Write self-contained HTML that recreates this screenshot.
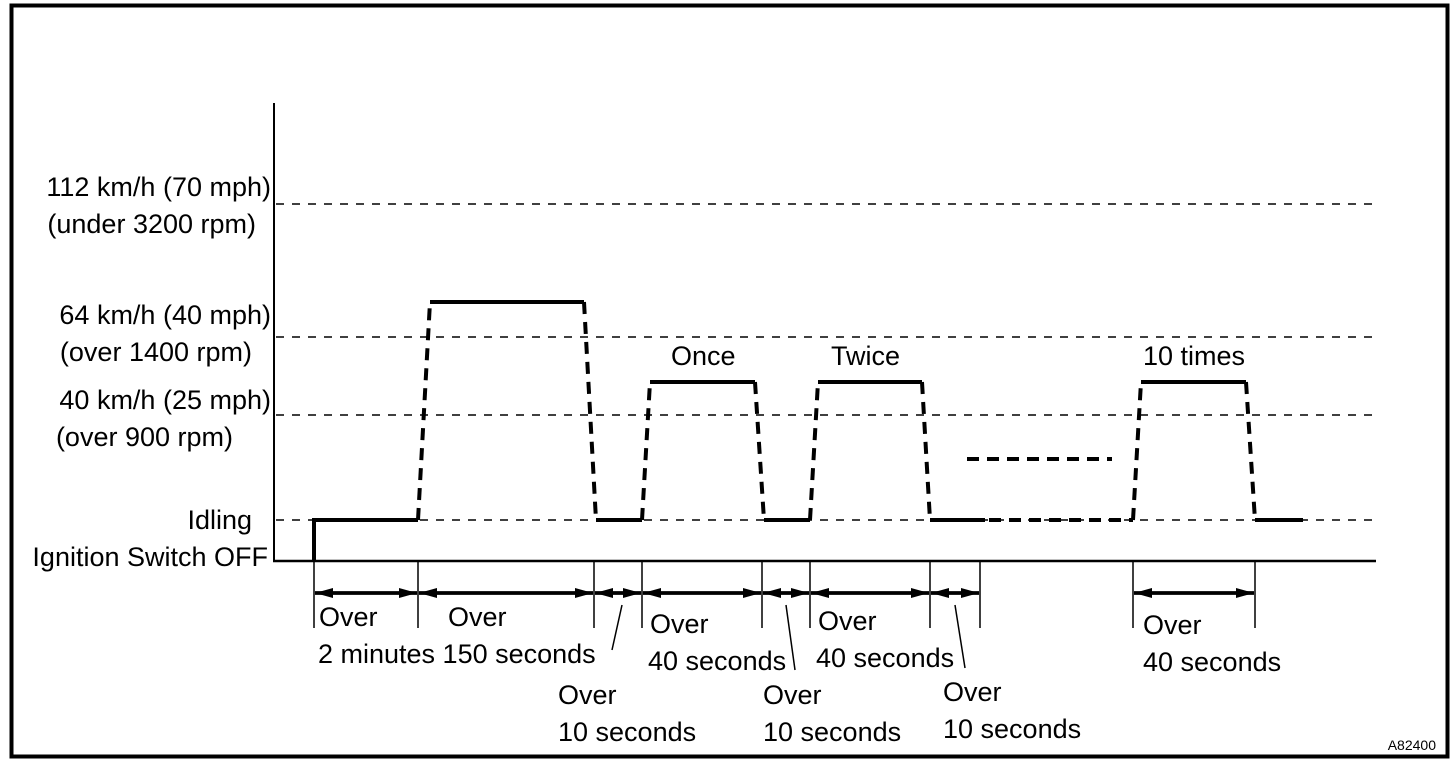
<!DOCTYPE html>
<html><head><style>
body{margin:0;background:#fff}
svg text{font-family:"Liberation Sans",Arial,sans-serif;font-size:27px;fill:#000}
</style></head><body>
<svg width="1456" height="768" viewBox="0 0 1456 768" xmlns="http://www.w3.org/2000/svg">
<defs>
<marker id="a" viewBox="0 0 18 10" refX="18" refY="5" markerWidth="18" markerHeight="10" orient="auto" markerUnits="userSpaceOnUse"><path d="M0,0 L18,5 L0,10 Z" fill="#000"/></marker>
</defs>
<rect x="11.5" y="5.5" width="1436" height="751" fill="none" stroke="#000" stroke-width="4"/>
<g stroke="#000" fill="none">
<line x1="274" y1="103" x2="274" y2="562" stroke-width="2"/>
<line x1="273" y1="561" x2="1376" y2="561" stroke-width="2.5"/>
<g stroke-width="1.5" stroke-dasharray="8,8">
<line x1="276" y1="204" x2="1372" y2="204"/>
<line x1="276" y1="337" x2="1372" y2="337"/>
<line x1="276" y1="415" x2="1372" y2="415"/>
<line x1="276" y1="520" x2="1372" y2="520"/>
</g>
<g stroke-width="4">
<polyline points="314,561 314,520 418,520"/>
<line x1="430" y1="302" x2="584" y2="302"/>
<line x1="596" y1="520" x2="642" y2="520"/>
<line x1="650" y1="382" x2="755" y2="382"/>
<line x1="764" y1="520" x2="810" y2="520"/>
<line x1="818" y1="382" x2="922" y2="382"/>
<line x1="930" y1="520" x2="985" y2="520"/>
<line x1="1141" y1="382" x2="1246" y2="382"/>
<line x1="1255" y1="520" x2="1303" y2="520"/>
</g>
<g stroke-width="4" stroke-dasharray="12,8">
<line x1="418" y1="520" x2="430" y2="302"/>
<line x1="584" y1="302" x2="596" y2="520"/>
<line x1="642" y1="520" x2="650" y2="382"/>
<line x1="755" y1="382" x2="764" y2="520"/>
<line x1="810" y1="520" x2="818" y2="382"/>
<line x1="922" y1="382" x2="930" y2="520"/>
<line x1="1133" y1="520" x2="1141" y2="382"/>
<line x1="1246" y1="382" x2="1255" y2="520"/>
<line x1="989" y1="520" x2="1133" y2="520"/>
<line x1="967" y1="459" x2="1112" y2="459"/>
</g>
<g stroke-width="1.5">
<line x1="314" y1="561" x2="314" y2="628"/>
<line x1="418" y1="561" x2="418" y2="628"/>
<line x1="594" y1="561" x2="594" y2="628"/>
<line x1="642" y1="561" x2="642" y2="628"/>
<line x1="762" y1="561" x2="762" y2="628"/>
<line x1="810" y1="561" x2="810" y2="628"/>
<line x1="930" y1="561" x2="930" y2="628"/>
<line x1="980" y1="561" x2="980" y2="628"/>
<line x1="1133" y1="561" x2="1133" y2="628"/>
<line x1="1255" y1="561" x2="1255" y2="628"/>
<line x1="622" y1="605" x2="612" y2="650"/>
<line x1="786" y1="605" x2="795" y2="670"/>
<line x1="955" y1="605" x2="965" y2="668"/>
</g>
<g stroke-width="3.5">
<line x1="315" y1="593" x2="417" y2="593" marker-end="url(#a)"/><line x1="417" y1="593" x2="315" y2="593" marker-end="url(#a)"/>
<line x1="419" y1="593" x2="593" y2="593" marker-end="url(#a)"/><line x1="593" y1="593" x2="419" y2="593" marker-end="url(#a)"/>
<line x1="595" y1="593" x2="641" y2="593" marker-end="url(#a)"/><line x1="641" y1="593" x2="595" y2="593" marker-end="url(#a)"/>
<line x1="643" y1="593" x2="761" y2="593" marker-end="url(#a)"/><line x1="761" y1="593" x2="643" y2="593" marker-end="url(#a)"/>
<line x1="763" y1="593" x2="809" y2="593" marker-end="url(#a)"/><line x1="809" y1="593" x2="763" y2="593" marker-end="url(#a)"/>
<line x1="811" y1="593" x2="929" y2="593" marker-end="url(#a)"/><line x1="929" y1="593" x2="811" y2="593" marker-end="url(#a)"/>
<line x1="931" y1="593" x2="979" y2="593" marker-end="url(#a)"/><line x1="979" y1="593" x2="931" y2="593" marker-end="url(#a)"/>
<line x1="1134" y1="593" x2="1254" y2="593" marker-end="url(#a)"/><line x1="1254" y1="593" x2="1134" y2="593" marker-end="url(#a)"/>
</g>
</g>
<g text-anchor="end">
<text x="271" y="196">112 km/h (70 mph)</text>
<text x="256" y="233">(under 3200 rpm)</text>
<text x="271" y="324">64 km/h (40 mph)</text>
<text x="252" y="361">(over 1400 rpm)</text>
<text x="271" y="409">40 km/h (25 mph)</text>
<text x="233" y="446">(over 900 rpm)</text>
<text x="252" y="529">Idling</text>
<text x="268" y="566">Ignition Switch OFF</text>
</g>
<text x="671" y="365">Once</text>
<text x="831" y="365">Twice</text>
<text x="1143" y="365">10 times</text>
<text x="319" y="626">Over</text>
<text x="448" y="626">Over</text>
<text x="318" y="663">2 minutes 150 seconds</text>
<text x="650" y="633">Over</text>
<text x="648" y="670">40 seconds</text>
<text x="818" y="630">Over</text>
<text x="816" y="667">40 seconds</text>
<text x="1143" y="634">Over</text>
<text x="1143" y="671">40 seconds</text>
<text x="558" y="704">Over</text>
<text x="558" y="741">10 seconds</text>
<text x="763" y="704">Over</text>
<text x="763" y="741">10 seconds</text>
<text x="943" y="701">Over</text>
<text x="943" y="738">10 seconds</text>
<text x="1436" y="750" text-anchor="end" style="font-size:14px">A82400</text>
</svg>
</body></html>
